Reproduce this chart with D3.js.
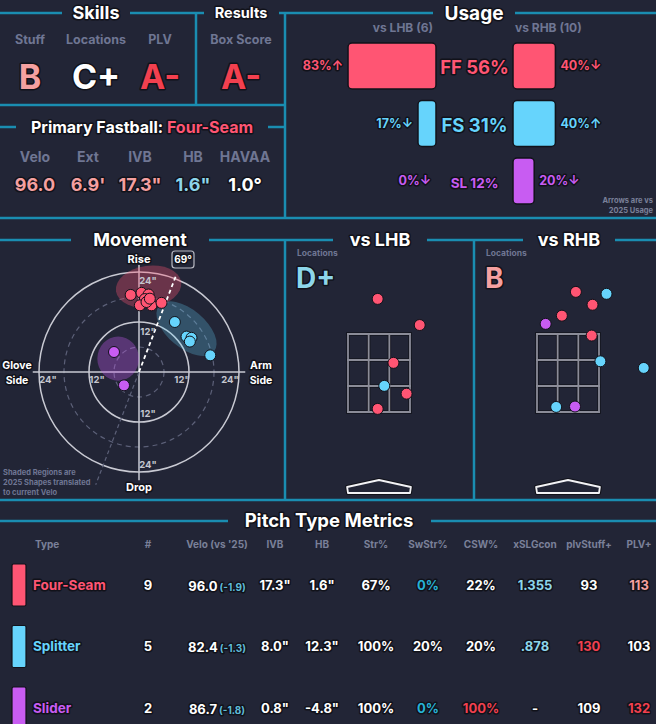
<!DOCTYPE html>
<html><head><meta charset="utf-8">
<script src="https://cdn.jsdelivr.net/npm/d3@7"></script>
<style>
html,body{margin:0;padding:0;background:#222536;}
svg{display:block;}
text{font-family:Inter,"DejaVu Sans",sans-serif;font-weight:700;}
.o{paint-order:stroke;stroke:#11121a;stroke-width:3px;stroke-linejoin:round;}
</style></head><body>
<svg id="c" width="656" height="724"></svg>
<script>
// ---------------- DATA ----------------
const pitchTypes = ["Four-Seam", "Splitter", "Slider"];
const pitchAbbr = ["FF", "FS", "SL"];
const pitchCounts = [9, 5, 2];
const usageAll = [56, 31, 12];
const usageLHB = [83, 17, 0];
const usageRHB = [40, 40, 20];
const arrowLHB = ["↑", "↓", "↓"];
const arrowRHB = ["↓", "↑", "↓"];
const batterCounts = [6, 10];

const skillLabels = ["Stuff", "Locations", "PLV"];
const skillGrades = ["B", "C+", "A-"];
const resultLabels = ["Box Score"];
const resultGrades = ["A-"];
const locGrades = ["D+", "B"];

const fbName = "Four-Seam";
const fbLabels = ["Velo", "Ext", "IVB", "HB", "HAVAA"];
const fbValues = ["96.0", "6.9'", "17.3\"", "1.6\"", "1.0°"];
const fbTiers = [1, 1, 1, -1, 0];

const armAngle = 69;
const ringsSolid = [12, 24];
const ringsDashed = [6, 18];
// movement: pitch type index, horizontal break (in), induced vertical break (in)
const mvType = [0, 0, 0, 0, 0, 0, 0, 0, 0, 1, 1, 1, 1, 1, 2, 2];
const mvHB = [-2.0, 0.6, 2.3, 1.4, 0.2, 3.0, 5.4, 1.8, 2.6, 8.6, 11.4, 12.6, 12.2, 17.1, -6.0, -3.6];
const mvIVB = [18.5, 19.0, 18.6, 17.5, 16.0, 16.0, 16.6, 16.8, 17.6, 12.0, 8.5, 8.2, 7.3, 4.0, 4.8, -3.2];
// 2025 shapes: centre hb, ivb, radius hb, radius ivb (in), tilt (deg)
const shapeHB = [2.3, 11.4, -5.0];
const shapeIVB = [20.5, 10.4, 3.2];
const shapeRX = [7.9, 8.6, 5.0];
const shapeRY = [5.0, 4.6, 5.3];
const shapeTilt = [-8, 40, 0];

// locations (plate_x ft, plate_z ft)
const lhbType = [0, 0, 0, 0, 0, 1];
const lhbX = [-0.03, 0.93, 0.33, 0.63, -0.03, 0.12];
const lhbZ = [4.40, 3.73, 2.76, 1.97, 1.58, 2.17];
const rhbType = [0, 0, 0, 0, 1, 1, 1, 1, 2, 2];
const rhbX = [0.18, 0.56, -0.14, 0.54, 0.88, 0.74, 1.73, -0.27, -0.51, 0.16];
const rhbZ = [4.58, 4.25, 3.97, 3.46, 4.53, 2.80, 2.63, 1.63, 3.76, 1.64];
const zoneHalfWidth = 0.708, zoneTop = 3.5, zoneBot = 1.5;

// table
const tblHeaders = ["Type", "#", "Velo (vs '25)", "IVB", "HB", "Str%", "SwStr%", "CSW%", "xSLGcon", "plvStuff+", "PLV+"];
const tblVelo = ["96.0", "82.4", "86.7"];
const tblVeloDiff = ["(-1.9)", "(-1.3)", "(-1.8)"];
const tblIVB = ["17.3\"", "8.0\"", "0.8\""];
const tblHB = ["1.6\"", "12.3\"", "-4.8\""];
const tblStr = ["67%", "100%", "100%"];
const tblSwStr = ["0%", "20%", "0%"];
const tblCSW = ["22%", "20%", "100%"];
const tblXSLG = ["1.355", ".878", "-"];
const tblStuff = ["93", "130", "109"];
const tblPLV = ["113", "103", "132"];
const tierSwStr = [-2, 0, -2];
const tierCSW = [0, 0, 2];
const tierXSLG = [-1, -1, 0];
const tierStuff = [0, 2, 0];
const tierPLV = [1, 0, 2];

// ---------------- STYLE ----------------
const BG = "#222536", LINE = "#1a8db1", GREY = "#6f7693";
const pitchColor = d3.scaleOrdinal().domain([0, 1, 2]).range(["#ff5573", "#66d4fc", "#c85cf2"]);
const tierColor = t => ({"2": "#f2404f", "1": "#f5a0a0", "0": "#ffffff", "-1": "#8dd6ea", "-2": "#27b2d6"})[String(t)];
const gradeTier = g => g.startsWith("A") ? 2 : g.startsWith("B") ? 1 : g.startsWith("C") ? 0 : g.startsWith("D") ? -1 : -2;

const svg = d3.select("#c");
svg.append("rect").attr("width", 656).attr("height", 724).attr("fill", BG);

function T(x, y, str, size, fill, anchor = "middle", outline = true) {
  return svg.append("text").attr("x", x).attr("y", y).attr("dy", "0.35em")
    .attr("text-anchor", anchor).attr("font-size", size).attr("fill", fill)
    .classed("o", outline).text(str);
}

// ---------------- FRAME LINES ----------------
const segs = [
  [0, 13, 62, 13], [130, 13, 204, 13], [279, 13, 433, 13], [515, 13, 656, 13],
  [196, 13, 196, 105], [285, 13, 285, 218],
  [0, 105, 285, 105], [0, 127, 16, 127], [268, 127, 285, 127],
  [0, 218, 656, 218],
  [0, 240, 71, 240], [209, 240, 333, 240], [427, 240, 523, 240], [615, 240, 656, 240],
  [285, 240, 285, 500], [474, 240, 474, 500],
  [0, 500, 656, 500],
  [0, 521, 228, 521], [431, 521, 656, 521]
];
svg.append("g").selectAll("line").data(segs).join("line")
  .attr("x1", d => d[0]).attr("y1", d => d[1]).attr("x2", d => d[2]).attr("y2", d => d[3])
  .attr("stroke", LINE).attr("stroke-width", 2.5);

// ---------------- SKILLS / RESULTS ----------------
T(96, 13, "Skills", 18, "#fff");
T(241, 13, "Results", 14.5, "#fff");
const skillX = [30, 96, 160];
skillLabels.forEach((l, i) => {
  T(skillX[i], 40, l, 12.5, GREY, "middle", false);
  T(skillX[i], 77, skillGrades[i], 34, tierColor(gradeTier(skillGrades[i])));
});
resultLabels.forEach((l, i) => {
  T(241, 40, l, 12.5, GREY, "middle", false);
  T(241, 77, resultGrades[i], 34, tierColor(gradeTier(resultGrades[i])));
});

// Primary fastball
const pf = svg.append("text").attr("x", 142).attr("y", 127).attr("dy", "0.35em")
  .attr("text-anchor", "middle").attr("font-size", 16).attr("class", "o");
pf.append("tspan").attr("fill", "#fff").text("Primary Fastball: ");
pf.append("tspan").attr("fill", "#ff5573").text(fbName);
const fbX = [35, 88, 140, 193, 245];
fbLabels.forEach((l, i) => {
  T(fbX[i], 157, l, 14, GREY, "middle", false);
  T(fbX[i], 185, fbValues[i], 18, tierColor(fbTiers[i]));
});

// ---------------- USAGE ----------------
T(474, 13, "Usage", 19, "#fff");
T(433, 28, `vs LHB (${batterCounts[0]})`, 12, GREY, "end", false);
T(515, 28, `vs RHB (${batterCounts[1]})`, 12, GREY, "start", false);
const uS = d3.scaleLinear().domain([0, 100]).range([0, 106]);
const band = d3.scaleBand().domain(pitchAbbr).range([43, 204]).paddingInner(0.2);
const xL0 = 436, xR0 = 513;
pitchAbbr.forEach((a, i) => {
  const y0 = band(a), h = band.bandwidth(), yc = y0 + h / 2, c = pitchColor(i);
  const wl = uS(usageLHB[i]), wr = uS(usageRHB[i]);
  if (wl > 0) svg.append("rect").attr("x", xL0 - wl).attr("y", y0).attr("width", wl).attr("height", h)
    .attr("rx", 4).attr("fill", c).attr("stroke", "#11121a").attr("stroke-width", 1.5);
  if (wr > 0) svg.append("rect").attr("x", xR0).attr("y", y0).attr("width", wr).attr("height", h)
    .attr("rx", 4).attr("fill", c).attr("stroke", "#11121a").attr("stroke-width", 1.5);
  T(xL0 - wl - 5, yc, usageLHB[i] + "%" + arrowLHB[i], 12.5, c, "end");
  T(xR0 + wr + 5, yc, usageRHB[i] + "%" + arrowRHB[i], 12.5, c, "start");
  T(474.5, yc + 2, `${a} ${usageAll[i]}%`, usageAll[i] >= 25 ? 18.5 : 13.5, c);
});
T(653, 200, "Arrows are vs", 7.5, "#7a8099", "end", false);
T(653, 210, "2025 Usage", 7.5, "#7a8099", "end", false);

// ---------------- MOVEMENT ----------------
T(140, 240, "Movement", 18, "#fff");
const cx = 139, cy = 372;
const mS = d3.scaleLinear().domain([0, 24]).range([0, 100]);
const mx = d3.scaleLinear().domain([-24, 24]).range([cx - 100, cx + 100]);
const my = d3.scaleLinear().domain([-24, 24]).range([cy + 100, cy - 100]);
const mg = svg.append("g");
ringsDashed.forEach(r => mg.append("circle").attr("cx", cx).attr("cy", cy).attr("r", mS(r))
  .attr("fill", "none").attr("stroke", "#5c6078").attr("stroke-width", 1.2).attr("stroke-dasharray", "5,4"));
ringsSolid.forEach(r => mg.append("circle").attr("cx", cx).attr("cy", cy).attr("r", mS(r))
  .attr("fill", "none").attr("stroke", "#c9cad3").attr("stroke-width", 1.5));
mg.append("line").attr("x1", cx).attr("x2", cx).attr("y1", my(25.7)).attr("y2", my(-26))
  .attr("stroke", "#c9cad3").attr("stroke-width", 1.5);
mg.append("line").attr("y1", cy).attr("y2", cy).attr("x1", mx(-25.5)).attr("x2", mx(25.5))
  .attr("stroke", "#c9cad3").attr("stroke-width", 1.5);
// shaded regions
pitchTypes.forEach((p, i) => {
  mg.append("ellipse").attr("cx", 0).attr("cy", 0).attr("rx", mS(shapeRX[i])).attr("ry", mS(shapeRY[i]))
    .attr("transform", `translate(${mx(shapeHB[i])},${my(shapeIVB[i])}) rotate(${shapeTilt[i]})`)
    .attr("fill", pitchColor(i)).attr("fill-opacity", i === 1 ? 0.26 : 0.33);
});
// axis labels
const axL = (x, y, s) => T(x, y, s, 9.5, "#c4c5ce", "middle", false);
axL(cx + 9, my(24) + 9, "24\""); axL(cx + 9, my(12) + 10, "12\"");
axL(cx + 9, my(-12) - 8, "12\""); axL(cx + 9, my(-24) - 7, "24\"");
axL(mx(-24) + 9, cy + 8, "24\""); axL(mx(-12) + 8, cy + 8, "12\"");
axL(mx(12) - 7, cy + 8, "12\""); axL(mx(24) - 9, cy + 8, "24\"");
T(cx, 259, "Rise", 11, "#fff"); T(cx, 487, "Drop", 11, "#fff");
T(17, 365, "Glove", 10.5, "#fff"); T(17, 380, "Side", 10.5, "#fff");
T(261, 365, "Arm", 10.5, "#fff"); T(261, 380, "Side", 10.5, "#fff");
// arm angle line
const aRad = armAngle * Math.PI / 180;
mg.append("line").attr("x1", cx).attr("y1", cy)
  .attr("x2", cx - mS(29) * Math.cos(aRad)).attr("y2", cy + mS(29) * Math.sin(aRad))
  .attr("stroke", "#5c6078").attr("stroke-width", 1.2).attr("stroke-dasharray", "4,3");
mg.append("line").attr("x1", cx).attr("y1", cy)
  .attr("x2", cx + mS(24.5) * Math.cos(aRad)).attr("y2", cy - mS(24.5) * Math.sin(aRad))
  .attr("stroke", "#fff").attr("stroke-width", 1.8).attr("stroke-dasharray", "4,3");
svg.append("rect").attr("x", 172).attr("y", 251).attr("width", 22).attr("height", 17).attr("rx", 3)
  .attr("fill", BG).attr("stroke", "#b8b9c2").attr("stroke-width", 1.2);
T(183, 259.5, armAngle + "°", 10, "#fff");
// dots
svg.append("g").selectAll("circle").data(mvType.map((t, i) => ({t, hb: mvHB[i], ivb: mvIVB[i]})))
  .join("circle").attr("cx", d => mx(d.hb)).attr("cy", d => my(d.ivb)).attr("r", 5.5)
  .attr("fill", d => pitchColor(d.t)).attr("stroke", "#11121a").attr("stroke-width", 1);
["Shaded Regions are", "2025 Shapes translated", "to current Velo"].forEach((s, i) =>
  T(3, 472 + i * 10, s, 7.5, GREY, "start", false));

// ---------------- LOCATIONS ----------------
function drawLoc(title, titleX, zc, labelX, grade, types, xs, zs) {
  T(titleX, 240, title, 18, "#fff");
  T(labelX, 253, "Locations", 8.5, GREY, "start", false);
  T(labelX - 1, 278, grade, 28, tierColor(gradeTier(grade)), "start");
  const x = d3.scaleLinear().domain([-zoneHalfWidth, zoneHalfWidth]).range([zc - 31, zc + 31]);
  const y = d3.scaleLinear().domain([zoneBot, zoneTop]).range([412, 334]);
  const g = svg.append("g");
  const xt = d3.range(4).map(k => -zoneHalfWidth + k * 2 * zoneHalfWidth / 3);
  const zt = d3.range(4).map(k => zoneBot + k * (zoneTop - zoneBot) / 3);
  [["#15161f", 3.5], ["#8b8c98", 1.8]].forEach(([col, w]) => {
    xt.forEach(v => g.append("line").attr("x1", x(v)).attr("x2", x(v)).attr("y1", y(zoneBot)).attr("y2", y(zoneTop))
      .attr("stroke", col).attr("stroke-width", w).attr("stroke-linecap", "square"));
    zt.forEach(v => g.append("line").attr("y1", y(v)).attr("y2", y(v)).attr("x1", x(-zoneHalfWidth)).attr("x2", x(zoneHalfWidth))
      .attr("stroke", col).attr("stroke-width", w).attr("stroke-linecap", "square"));
  });
  const plate = [[-zoneHalfWidth - 0.02, 487], [0, 480], [zoneHalfWidth + 0.02, 487], [zoneHalfWidth, 493], [-zoneHalfWidth, 493]];
  g.append("polygon").attr("points", plate.map(p => [x(p[0]), p[1]].join(",")).join(" "))
    .attr("fill", BG).attr("stroke", "#11121a").attr("stroke-width", 4).attr("stroke-linejoin", "round");
  g.append("polygon").attr("points", plate.map(p => [x(p[0]), p[1]].join(",")).join(" "))
    .attr("fill", BG).attr("stroke", "#f2f2f5").attr("stroke-width", 1.8).attr("stroke-linejoin", "round");
  g.selectAll("circle.p").data(types.map((t, i) => ({t, px: xs[i], pz: zs[i]}))).join("circle")
    .attr("cx", d => x(d.px)).attr("cy", d => y(d.pz)).attr("r", 5.5)
    .attr("fill", d => pitchColor(d.t)).attr("stroke", "#11121a").attr("stroke-width", 1);
}
drawLoc("vs LHB", 380, 379, 297, locGrades[0], lhbType, lhbX, lhbZ);
drawLoc("vs RHB", 569, 568, 486, locGrades[1], rhbType, rhbX, rhbZ);

// ---------------- TABLE ----------------
T(329, 521, "Pitch Type Metrics", 18.5, "#fff");
const colX = [35, 148, 217, 275, 322, 376, 428, 481, 535, 589, 639];
tblHeaders.forEach((h, i) => T(colX[i], 544, h, 10, "#7a8099", i === 0 ? "start" : "middle", false));
const rowY = d3.scalePoint().domain(pitchTypes).range([585, 708]);
pitchTypes.forEach((p, i) => {
  const y = rowY(p), c = pitchColor(i);
  svg.append("rect").attr("x", 12).attr("y", y - 21).attr("width", 14).attr("height", 42).attr("rx", 1.5)
    .attr("fill", c).attr("stroke", "#11121a").attr("stroke-width", 1.2);
  T(33, y, p, 13.5, c, "start");
  T(colX[1], y, pitchCounts[i], 13, "#fff");
  const v = svg.append("text").attr("x", colX[2]).attr("y", y).attr("dy", "0.35em").attr("text-anchor", "middle")
    .attr("class", "o");
  v.append("tspan").attr("font-size", 13).attr("fill", "#fff").text(tblVelo[i]);
  v.append("tspan").attr("font-size", 10).attr("fill", "#5fbcd9").attr("dx", 2).text(tblVeloDiff[i]);
  T(colX[3], y, tblIVB[i], 13, "#fff");
  T(colX[4], y, tblHB[i], 13, "#fff");
  T(colX[5], y, tblStr[i], 13, "#fff");
  T(colX[6], y, tblSwStr[i], 13, tierColor(tierSwStr[i]));
  T(colX[7], y, tblCSW[i], 13, tierColor(tierCSW[i]));
  T(colX[8], y, tblXSLG[i], 13, tierColor(tierXSLG[i]));
  T(colX[9], y, tblStuff[i], 13, tierColor(tierStuff[i]));
  T(colX[10], y, tblPLV[i], 13, tierColor(tierPLV[i]));
});
</script>
</body></html>
